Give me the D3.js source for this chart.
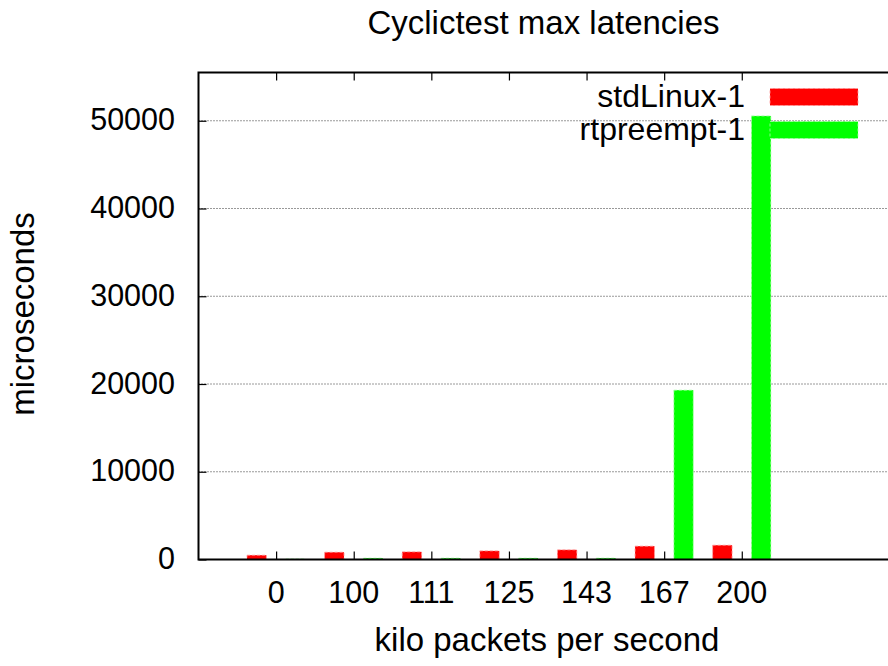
<!DOCTYPE html>
<html>
<head>
<meta charset="utf-8">
<script src="https://cdn.jsdelivr.net/npm/d3@7"></script>
<style>
  html, body { margin: 0; padding: 0; background: #fff; }
  svg { display: block; font-family: "Liberation Sans", Arial, Helvetica, sans-serif; }
</style>
</head>
<body>
<svg id="chart" width="888" height="666"></svg>
<script>
// Packet rates (kilo packets per second) on the x axis
const categories = ["0", "100", "111", "125", "143", "167", "200"];
// Maximum cyclictest latency per run, microseconds
const stdLinux = [490, 830, 870, 980, 1100, 1520, 1630];
const rtPreempt = [60, 150, 150, 150, 150, 19300, 50550];
const seriesNames = ["stdLinux-1", "rtpreempt-1"];
const seriesColors = ["#ff0000", "#00ff00"];
const edgeColors = ["#ff9a9a", "#a8ffa8"];
const yTicks = [0, 10000, 20000, 30000, 40000, 50000];
const yMax = 55500;

const svg = d3.select("#chart");
const plot = { left: 198.5, top: 72.5, bottom: 559.5, right: 897 };

// x positions: category index, with one empty slot to the left and extra room on the right
const x = d3.scaleLinear().domain([-1, 8]).range([plot.left, plot.right]);
const y = d3.scaleLinear().domain([0, yMax]).range([plot.bottom, plot.top]);
const barW = x(0.25) - x(0);
const offsets = [-0.25, 0.25];

// dotted horizontal grid
svg.append("g")
  .selectAll("line")
  .data(yTicks.filter(d => d > 0))
  .join("line")
  .attr("x1", plot.left).attr("x2", plot.right)
  .attr("y1", d => y(d)).attr("y2", d => y(d))
  .attr("stroke", "#333").attr("stroke-width", 1)
  .attr("stroke-dasharray", "1,2");

// bars
const series = [stdLinux, rtPreempt];
series.forEach((vals, s) => {
  svg.append("g")
    .selectAll("rect")
    .data(vals)
    .join("rect")
    .attr("x", (d, i) => x(i + offsets[s]) - barW / 2)
    .attr("width", barW)
    .attr("y", d => y(d))
    .attr("height", d => y(0) - y(d))
    .attr("fill", seriesColors[s])
    .attr("stroke", edgeColors[s])
    .attr("stroke-width", 0.8)
    .attr("stroke-dasharray", "3,2");
});

// y axis ticks pointing inward
const yAxis = d3.axisRight(y).tickValues(yTicks).tickSize(8).tickFormat("");
svg.append("g").attr("transform", `translate(${plot.left},0)`).call(yAxis)
  .call(g => g.select(".domain").remove())
  .selectAll("line").attr("stroke", "#000").attr("stroke-width", 1.2);

// y tick labels
svg.append("g")
  .selectAll("text")
  .data(yTicks)
  .join("text")
  .attr("x", 175).attr("y", d => y(d) + 9.5)
  .attr("text-anchor", "end")
  .attr("font-size", 30.5)
  .text(d => d);

// x ticks at bottom (upward) and top (downward)
const xAxisBottom = d3.axisTop(x).tickValues(d3.range(categories.length)).tickSize(8).tickFormat("");
svg.append("g").attr("transform", `translate(0,${plot.bottom})`).call(xAxisBottom)
  .call(g => g.select(".domain").remove())
  .selectAll("line").attr("stroke", "#000").attr("stroke-width", 1.2);
const xAxisTop = d3.axisBottom(x).tickValues(d3.range(categories.length)).tickSize(8).tickFormat("");
svg.append("g").attr("transform", `translate(0,${plot.top})`).call(xAxisTop)
  .call(g => g.select(".domain").remove())
  .selectAll("line").attr("stroke", "#000").attr("stroke-width", 1.2);

// x tick labels
svg.append("g")
  .selectAll("text")
  .data(categories)
  .join("text")
  .attr("x", (d, i) => x(i)).attr("y", 603)
  .attr("text-anchor", "middle")
  .attr("font-size", 30.5)
  .text(d => d);

// frame (right side runs off the canvas)
svg.append("path")
  .attr("d", `M${plot.right},${plot.top}H${plot.left}V${plot.bottom}H${plot.right}`)
  .attr("fill", "none").attr("stroke", "#000").attr("stroke-width", 2);

// legend
const legend = svg.append("g");
seriesNames.forEach((name, s) => {
  const cy = 97 + s * 33;
  legend.append("text")
    .attr("x", 745).attr("y", cy + 10)
    .attr("text-anchor", "end").attr("font-size", 32)
    .text(name);
  legend.append("rect")
    .attr("x", 770).attr("y", cy - 8.5)
    .attr("width", 88).attr("height", 17)
    .attr("fill", seriesColors[s])
    .attr("stroke", edgeColors[s]).attr("stroke-width", 0.8)
    .attr("stroke-dasharray", "3,2");
});

// title and axis labels
svg.append("text").attr("x", 543.5).attr("y", 34)
  .attr("text-anchor", "middle").attr("font-size", 33)
  .text("Cyclictest max latencies");
svg.append("text").attr("x", 547).attr("y", 651)
  .attr("text-anchor", "middle").attr("font-size", 33)
  .text("kilo packets per second");
svg.append("text")
  .attr("transform", "translate(34,314) rotate(-90)")
  .attr("text-anchor", "middle").attr("font-size", 33)
  .text("microseconds");
</script>
</body>
</html>
